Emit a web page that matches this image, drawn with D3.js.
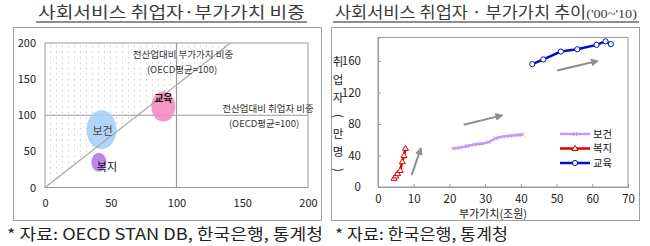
<!DOCTYPE html>
<html>
<head>
<meta charset="utf-8">
<script src="https://cdn.jsdelivr.net/npm/d3@7"></script>
<style>
  body { margin: 0; background: #fff; }
  svg { display: block; }
  text { font-family: "Noto Sans CJK KR", "Liberation Sans", sans-serif; }
</style>
</head>
<body>
<svg id="chart" width="650" height="246"></svg>
<script>
// left panel: share vs OECD average (=100)
const bubbleNames = ['보건', '교육', '복지'];
const bubbleX = [43, 90, 41];
const bubbleY = [80, 112, 35];
const bubbleColors = ['#a9d0f7', '#f38cc0', '#b47ae9'];
const leftTicks = [0, 50, 100, 150, 200];
const diagonalLine = [[0, 0], [141, 200]];

// right panel: value added (조원) vs employees (만명), 2000~2010
const seriesNames = ['보건', '복지', '교육'];
const healthX = [21, 23, 25, 27, 29, 31, 33, 35, 37, 39, 40.5];
const healthY = [49, 50, 52, 54, 55, 57, 62, 64, 65, 66, 66.5];
const welfareX = [4.5, 5, 5.5, 6.2, 6.8, 7.3, 7.7];
const welfareY = [11, 14, 17, 21, 32, 40, 49];
const eduX = [43.2, 46.3, 51.2, 55.8, 61.2, 63.7, 65.2];
const eduY = [156, 162, 172, 175, 180.5, 185, 181.5];
const seriesColors = ['#c39bee', '#e00000', '#0010c0'];
const rightXTicks = [0, 10, 20, 30, 40, 50, 60, 70];
const rightYTicks = [0, 40, 80, 120, 160];
const trendArrows = [[[9.4, 15], [12, 49]], [[24, 79], [34.7, 91]], [[50.2, 148], [61.4, 160]]];

const svg = d3.select('#chart');

const defs = svg.append('defs');
const pat = defs.append('pattern')
  .attr('id', 'dots')
  .attr('patternUnits', 'userSpaceOnUse')
  .attr('width', 6)
  .attr('height', 5.5);
pat.append('rect').attr('x', 2).attr('y', 2).attr('width', 1).attr('height', 1).attr('fill', '#b4b4b4');

const arrowHead = defs.append('marker')
  .attr('id', 'arrow')
  .attr('viewBox', '0 0 10 10')
  .attr('refX', 8)
  .attr('refY', 5)
  .attr('markerWidth', 4)
  .attr('markerHeight', 4)
  .attr('orient', 'auto');
arrowHead.append('path').attr('d', 'M0,0L10,5L0,10z').attr('fill', '#8e8e8e');

// titles
function title(x1, x2, text, small) {
  const t = svg.append('text')
    .attr('x', x1)
    .attr('y', 18)
    .attr('font-size', 16)
    .attr('fill', '#3a3a3a')
    .attr('textLength', x2 - x1)
    .attr('lengthAdjust', 'spacingAndGlyphs')
    .text(text);
  if (small) {
    t.append('tspan').attr('font-size', 13).attr('font-family', 'Liberation Serif').text(small);
  }
  svg.append('line')
    .attr('x1', x1 - 2).attr('x2', x2 + 2)
    .attr('y1', 22).attr('y2', 22)
    .attr('stroke', '#6a6a6a')
    .attr('stroke-width', 1.5);
}
title(38, 305, '사회서비스 취업자·부가가치 비중');
title(335, 637, '사회서비스 취업자 · 부가가치 추이', "('00~'10)");

// frames
svg.append('rect').attr('x', 13.5).attr('y', 27.5).attr('width', 308).attr('height', 193)
  .attr('fill', 'none').attr('stroke', '#a0a0a0');
svg.append('rect').attr('x', 331.5).attr('y', 27.5).attr('width', 308).attr('height', 193)
  .attr('fill', 'none').attr('stroke', '#a0a0a0');

// ---------- left chart ----------
const lx = d3.scaleLinear().domain([0, 200]).range([45, 308]);
const ly = d3.scaleLinear().domain([0, 200]).range([187.5, 43]);

const left = svg.append('g');

left.append('path')
  .attr('d', `M${lx(0)},${ly(0)}L${lx(0)},${ly(200)}L${lx(diagonalLine[1][0])},${ly(200)}Z`)
  .attr('fill', 'url(#dots)');

left.append('rect')
  .attr('x', lx(0)).attr('y', ly(200))
  .attr('width', lx(200) - lx(0)).attr('height', ly(0) - ly(200))
  .attr('fill', 'none').attr('stroke', '#9a9a9a');

left.append('line')
  .attr('x1', lx(100)).attr('x2', lx(100)).attr('y1', ly(0)).attr('y2', ly(200))
  .attr('stroke', '#9a9a9a').attr('stroke-width', 1.2);
left.append('line')
  .attr('x1', lx(0)).attr('x2', lx(200)).attr('y1', ly(100)).attr('y2', ly(100))
  .attr('stroke', '#9a9a9a').attr('stroke-width', 1.2);

const bubbleR = [[15, 19.5], [12, 15], [7.5, 9.5]];
bubbleNames.forEach((name, i) => {
  left.append('ellipse')
    .attr('cx', lx(bubbleX[i])).attr('cy', ly(bubbleY[i]))
    .attr('rx', bubbleR[i][0]).attr('ry', bubbleR[i][1])
    .attr('fill', bubbleColors[i])
    .attr('fill-opacity', 0.9);
});

left.append('line')
  .attr('x1', lx(diagonalLine[0][0])).attr('y1', ly(diagonalLine[0][1]))
  .attr('x2', lx(diagonalLine[1][0])).attr('y2', ly(diagonalLine[1][1]))
  .attr('stroke', '#a8a8a8').attr('stroke-width', 1.2);

const bubbleLabelOff = [[1, 1], [0, -8], [8, 5]];
bubbleNames.forEach((name, i) => {
  left.append('text')
    .attr('x', lx(bubbleX[i]) + bubbleLabelOff[i][0])
    .attr('y', ly(bubbleY[i]) + bubbleLabelOff[i][1])
    .attr('dy', '0.35em')
    .attr('text-anchor', 'middle')
    .attr('font-size', i === 1 ? 10 : 11)
    .attr('font-weight', i === 1 ? 'bold' : 'normal')
    .attr('fill', i === 0 ? '#444' : '#111')
    .text(name);
});

const leftNotes = [
  ['전산업대비 부가가치 비중', 183, 55],
  ['(OECD평균=100)', 182, 70],
  ['전산업대비 취업자 비중', 268, 109],
  ['(OECD평균=100)', 264, 124]
];
leftNotes.forEach((n) => {
  left.append('text')
    .attr('x', n[1]).attr('y', n[2])
    .attr('dy', '0.35em')
    .attr('text-anchor', 'middle')
    .attr('font-size', 9.5)
    .attr('fill', '#333')
    .text(n[0]);
});

const lAxisY = left.append('g')
  .attr('transform', `translate(${lx(0)},0)`)
  .call(d3.axisLeft(ly).tickValues(leftTicks).tickSize(0).tickPadding(9));
const lAxisX = left.append('g')
  .attr('transform', `translate(0,${ly(0)})`)
  .call(d3.axisBottom(lx).tickValues(leftTicks).tickSize(0).tickPadding(12));
[lAxisY, lAxisX].forEach((a) => {
  a.select('.domain').remove();
  a.selectAll('text').attr('font-family', 'Liberation Sans').attr('font-size', 11).attr('fill', '#222');
});

// ---------- right chart ----------
const rx = d3.scaleLinear().domain([0, 70]).range([378, 628]);
const ry = d3.scaleLinear().domain([0, 190]).range([187, 37.4]);

const right = svg.append('g');

right.append('rect')
  .attr('x', rx(0)).attr('y', ry(190))
  .attr('width', rx(70) - rx(0)).attr('height', ry(0) - ry(190))
  .attr('fill', 'none').attr('stroke', '#9a9a9a');

const rAxisY = right.append('g')
  .attr('transform', `translate(${rx(0)},0)`)
  .call(d3.axisLeft(ry).tickValues(rightYTicks).tickSize(-3).tickPadding(17));
const rAxisX = right.append('g')
  .attr('transform', `translate(0,${ry(0)})`)
  .call(d3.axisBottom(rx).tickValues(rightXTicks).tickSize(-3).tickPadding(8));
[rAxisY, rAxisX].forEach((a) => {
  a.select('.domain').attr('stroke', '#9a9a9a');
  a.selectAll('line').attr('stroke', '#9a9a9a');
  a.selectAll('text').attr('font-family', 'Liberation Sans').attr('font-size', 11.5).attr('fill', '#222');
});

// y axis title, stacked
const yTitle = ['취', '업', '자', '(', '만', '명', ')'];
yTitle.forEach((ch, i) => {
  const cy = 62 + i * 18;
  const t = right.append('text')
    .attr('x', 338).attr('y', cy)
    .attr('dy', '0.35em')
    .attr('text-anchor', 'middle')
    .attr('font-size', 11.5)
    .attr('fill', '#222')
    .text(ch);
  if (ch === '(' || ch === ')') t.attr('transform', `rotate(90,338,${cy})`);
});
right.append('text')
  .attr('x', 493).attr('y', 214)
  .attr('dy', '0.35em')
  .attr('text-anchor', 'middle')
  .attr('font-size', 11)
  .attr('fill', '#222')
  .text('부가가치(조원)');

trendArrows.forEach((a) => {
  right.append('line')
    .attr('x1', rx(a[0][0])).attr('y1', ry(a[0][1]))
    .attr('x2', rx(a[1][0])).attr('y2', ry(a[1][1]))
    .attr('stroke', '#8e8e8e').attr('stroke-width', 2)
    .attr('marker-end', 'url(#arrow)');
});

const lineGen = d3.line().x((d) => rx(d[0])).y((d) => ry(d[1]));
const allSeries = [d3.zip(healthX, healthY), d3.zip(welfareX, welfareY), d3.zip(eduX, eduY)];

function drawMarker(g, kind, x, y, color) {
  if (kind === 0) {
    g.append('path').attr('d', `M${x - 2},${y - 2}L${x + 2},${y + 2}M${x - 2},${y + 2}L${x + 2},${y - 2}`)
      .attr('stroke', color).attr('stroke-width', 1);
  } else if (kind === 1) {
    g.append('path').attr('d', `M${x},${y - 3.2}L${x + 3},${y + 2}L${x - 3},${y + 2}Z`)
      .attr('fill', '#fff').attr('stroke', color).attr('stroke-width', 1);
  } else {
    g.append('circle').attr('cx', x).attr('cy', y).attr('r', 2.6)
      .attr('fill', '#fff').attr('stroke', color).attr('stroke-width', 1);
  }
}

allSeries.forEach((pts, i) => {
  right.append('path')
    .attr('d', lineGen(pts))
    .attr('fill', 'none')
    .attr('stroke', seriesColors[i])
    .attr('stroke-width', 2.5);
  pts.forEach((p) => drawMarker(right, i, rx(p[0]), ry(p[1]), seriesColors[i]));
});

// legend
seriesNames.forEach((name, i) => {
  const y = 134 + i * 14.5;
  right.append('line')
    .attr('x1', 560).attr('x2', 590).attr('y1', y).attr('y2', y)
    .attr('stroke', seriesColors[i]).attr('stroke-width', 2.5);
  drawMarker(right, i, 575, y, seriesColors[i]);
  right.append('text')
    .attr('x', 593).attr('y', y)
    .attr('dy', '0.35em')
    .attr('font-size', 10)
    .attr('textLength', 19)
    .attr('lengthAdjust', 'spacingAndGlyphs')
    .attr('fill', '#111')
    .text(name);
});

// sources
svg.append('text')
  .attr('x', 7).attr('y', 240)
  .attr('font-family', '"Liberation Serif", "Noto Sans CJK KR", serif')
  .attr('font-size', 15.5)
  .attr('fill', '#222')
  .attr('textLength', 316)
  .attr('lengthAdjust', 'spacingAndGlyphs')
  .text('* 자료: OECD STAN DB, 한국은행, 통계청');
svg.append('text')
  .attr('x', 335).attr('y', 240)
  .attr('font-family', '"Liberation Serif", "Noto Sans CJK KR", serif')
  .attr('font-size', 15.5)
  .attr('fill', '#222')
  .attr('textLength', 173)
  .attr('lengthAdjust', 'spacingAndGlyphs')
  .text('* 자료: 한국은행, 통계청');
</script>
</body>
</html>
